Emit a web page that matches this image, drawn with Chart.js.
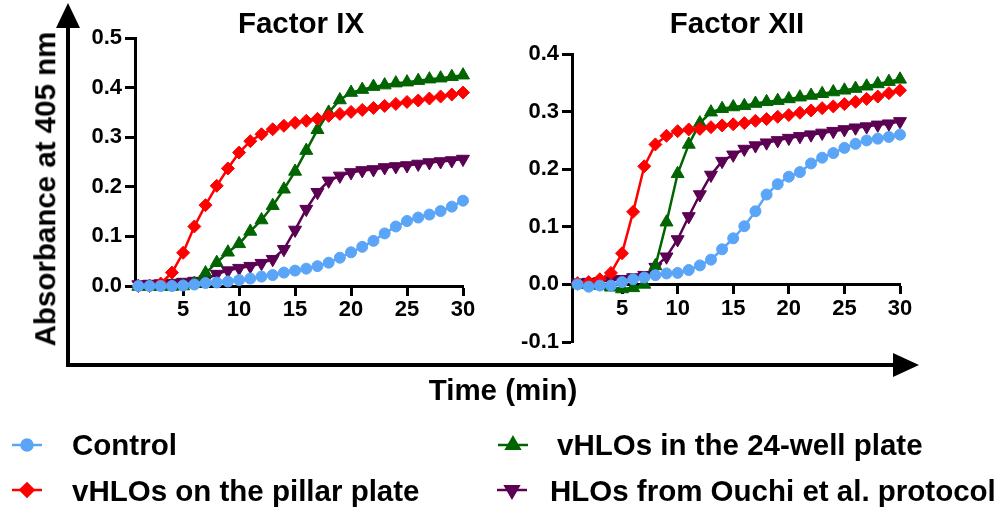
<!DOCTYPE html>
<html>
<head>
<meta charset="utf-8">
<script src="https://cdn.jsdelivr.net/npm/chart.js@4.4.1/dist/chart.umd.min.js"></script>
<style>
  body { margin: 0; background: #fff; }
  #page { position: relative; width: 1005px; height: 510px; overflow: hidden;
          font-family: "Liberation Sans", Arial, sans-serif; font-weight: bold; color: #000; }
  canvas { position: absolute; }
  .txt { position: absolute; white-space: nowrap; font-size: 29.5px; line-height: 1; }
  .mid { transform: translate(-50%, -50%); }
  .lft { transform: translate(0, -50%); }
</style>
</head>
<body>
<div id="page">
  <canvas id="deco" width="1005" height="510" style="left:0;top:0"></canvas>
  <canvas id="chartIX" width="420" height="330" style="left:70px;top:0"></canvas>
  <canvas id="chartXII" width="420" height="340" style="left:500px;top:30px"></canvas>

  <div class="txt mid" style="left:301px;top:23px">Factor IX</div>
  <div class="txt mid" style="left:737px;top:23px">Factor XII</div>
  <div class="txt mid" style="left:45px;top:189px;transform:translate(-50%,-50%) rotate(-90deg)">Absorbance at 405 nm</div>
  <div class="txt mid" style="left:503px;top:390px">Time (min)</div>

  <div class="txt lft" style="left:72px;top:445px">Control</div>
  <div class="txt lft" style="left:72px;top:491px">vHLOs on the pillar plate</div>
  <div class="txt lft" style="left:557px;top:445px">vHLOs in the 24-well plate</div>
  <div class="txt lft" style="left:550px;top:491px">HLOs from Ouchi et al. protocol</div>
</div>
<script>
// time points (min)
const minutes = [1,2,3,4,5,6,7,8,9,10,11,12,13,14,15,16,17,18,19,20,21,22,23,24,25,26,27,28,29,30];
const xTicks = [5, 10, 15, 20, 25, 30];

// Factor IX
const ixControl = [0,0,0,0,0.001,0.003,0.006,0.007,0.009,0.012,0.015,0.019,0.022,0.027,0.031,0.035,0.04,0.047,0.057,0.068,0.079,0.091,0.106,0.12,0.131,0.138,0.144,0.151,0.16,0.172];
const ixPillar = [0,0,0.005,0.027,0.067,0.12,0.163,0.202,0.237,0.269,0.292,0.306,0.316,0.323,0.329,0.333,0.337,0.343,0.347,0.351,0.355,0.359,0.363,0.367,0.371,0.374,0.378,0.382,0.386,0.39];
const ixWell24 = [-0.001,-0.001,-0.001,-0.001,0,0.005,0.026,0.047,0.068,0.085,0.11,0.133,0.162,0.195,0.231,0.273,0.315,0.35,0.375,0.39,0.396,0.402,0.405,0.409,0.411,0.414,0.417,0.419,0.422,0.425];
const ixOuchi = [0.003,0.004,0.005,0.006,0.008,0.01,0.013,0.024,0.031,0.036,0.04,0.046,0.054,0.074,0.113,0.155,0.189,0.212,0.222,0.229,0.233,0.235,0.239,0.241,0.243,0.246,0.249,0.251,0.253,0.256];
const ixYTicks = [0, 0.1, 0.2, 0.3, 0.4, 0.5];

// Factor XII
const xiiControl = [0,-0.004,-0.002,-0.002,0.004,0.009,0.012,0.016,0.019,0.02,0.025,0.033,0.043,0.061,0.08,0.101,0.127,0.156,0.174,0.187,0.195,0.21,0.22,0.228,0.237,0.244,0.25,0.253,0.256,0.26];
const xiiPillar = [0.002,0.004,0.009,0.02,0.054,0.126,0.205,0.243,0.258,0.266,0.269,0.27,0.273,0.276,0.278,0.28,0.284,0.287,0.291,0.294,0.298,0.302,0.306,0.309,0.313,0.317,0.322,0.326,0.332,0.337];
const xiiWell24 = [0,0,-0.002,-0.005,-0.008,-0.006,0,0.032,0.108,0.192,0.243,0.28,0.299,0.305,0.308,0.31,0.314,0.317,0.319,0.322,0.325,0.328,0.331,0.334,0.337,0.34,0.344,0.348,0.352,0.356];
const xiiOuchi = [0.003,0.004,0.005,0.007,0.009,0.012,0.016,0.03,0.048,0.078,0.118,0.156,0.19,0.214,0.225,0.235,0.241,0.246,0.25,0.254,0.257,0.26,0.263,0.266,0.269,0.272,0.274,0.277,0.279,0.283];
const xiiYTicks = [-0.1, 0, 0.1, 0.2, 0.3, 0.4];

const styles = {
    control: { color: '#5aa5f7', pointStyle: 'circle', radius: 5.5, rotation: 0 },
    pillar:  { color: '#ff0000', pointStyle: 'rectRot', radius: 6.5, rotation: 0 },
    well24:  { color: '#006400', pointStyle: 'triangle', radius: 7.5, rotation: 0 },
    ouchi:   { color: '#5b0052', pointStyle: 'triangle', radius: 7.5, rotation: 180 },
};

const tickFont = { family: 'Liberation Sans, Arial, sans-serif', size: 22, weight: 'bold' };

function makeSet(vals, st) {
    return {
        data: minutes.map((m, i) => ({ x: m, y: vals[i] })),
        borderColor: st.color,
        backgroundColor: st.color,
        pointBackgroundColor: st.color,
        pointBorderColor: st.color,
        pointStyle: st.pointStyle,
        pointRotation: st.rotation,
        pointRadius: st.radius,
        pointBorderWidth: 1,
        borderWidth: 2.5,
        tension: 0,
        clip: false,
    };
}

function makeChart(id, series, xMin, yMin, yMax, yTicks, yWidth, padding) {
    return new Chart(document.getElementById(id), {
        type: 'line',
        data: {
            datasets: [
                makeSet(series[0], styles.control),
                makeSet(series[1], styles.pillar),
                makeSet(series[2], styles.well24),
                makeSet(series[3], styles.ouchi),
            ],
        },
        options: {
            responsive: false,
            animation: false,
            layout: { padding: padding },
            scales: {
                x: {
                    type: 'linear',
                    position: { y: 0 },
                    min: xMin,
                    max: 30,
                    afterBuildTicks: (s) => { s.ticks = xTicks.map((v) => ({ value: v })); },
                    ticks: { color: '#000', font: tickFont, padding: 3, maxRotation: 0 },
                    grid: { drawOnChartArea: false, drawTicks: true, tickLength: 8, tickWidth: 3, tickColor: '#000' },
                    border: { display: true, color: '#000', width: 3 },
                },
                y: {
                    type: 'linear',
                    min: yMin,
                    max: yMax,
                    afterBuildTicks: (s) => { s.ticks = yTicks.map((v) => ({ value: v })); },
                    afterFit: (s) => { s.width = yWidth; },
                    ticks: { color: '#000', font: tickFont, padding: 3, callback: (v) => v.toFixed(1) },
                    grid: { drawOnChartArea: false, drawTicks: true, tickLength: 10, tickWidth: 3, tickColor: '#000' },
                    border: { display: true, color: '#000', width: 3 },
                },
            },
            plugins: {
                legend: { display: false },
                tooltip: { enabled: false },
            },
        },
    });
}

makeChart('chartIX', [ixControl, ixPillar, ixWell24, ixOuchi], 0.7, 0, 0.5, ixYTicks, 65,
          { left: 0, top: 38, right: 27, bottom: 44 });
makeChart('chartXII', [xiiControl, xiiPillar, xiiWell24, xiiOuchi], 0.5, -0.1, 0.4, xiiYTicks, 72,
          { left: 0, top: 24, right: 20, bottom: 28 });

// big axis arrows and legend symbols
const ctx = document.getElementById('deco').getContext('2d');
ctx.strokeStyle = '#000';
ctx.fillStyle = '#000';
ctx.lineWidth = 4;
ctx.beginPath();
ctx.moveTo(68, 25);
ctx.lineTo(68, 365);
ctx.lineTo(896, 365);
ctx.stroke();
ctx.beginPath();
ctx.moveTo(68, 3); ctx.lineTo(56, 28); ctx.lineTo(80, 28); ctx.closePath(); ctx.fill();
ctx.beginPath();
ctx.moveTo(919, 365); ctx.lineTo(893, 353); ctx.lineTo(893, 377); ctx.closePath(); ctx.fill();

function legendSymbol(st, cx, cy) {
    ctx.strokeStyle = st.color;
    ctx.fillStyle = st.color;
    ctx.lineWidth = 2.5;
    ctx.beginPath();
    ctx.moveTo(cx - 15, cy); ctx.lineTo(cx + 15, cy);
    ctx.stroke();
    Chart.helpers.drawPoint(ctx, { pointStyle: st.pointStyle, radius: st.radius, rotation: st.rotation, borderWidth: 1 }, cx, cy);
}
legendSymbol(styles.control, 27, 445);
legendSymbol(styles.pillar, 27, 490);
legendSymbol(styles.well24, 513, 445);
legendSymbol(styles.ouchi, 512, 490);
</script>
</body>
</html>
